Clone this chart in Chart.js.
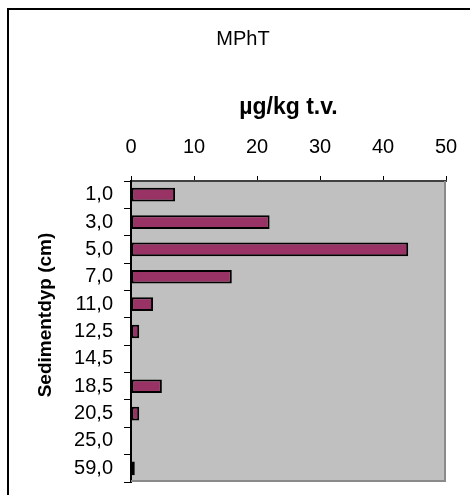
<!DOCTYPE html>
<html>
<head>
<meta charset="utf-8">
<script src="https://cdn.jsdelivr.net/npm/chart.js@4"></script>
<style>
  html, body { margin: 0; padding: 0; background: #fff; }
  #wrap { width: 470px; height: 495px; position: relative; }
</style>
</head>
<body>
<div id="wrap"><canvas id="c" width="470" height="495"></canvas></div>
<script>
const chartTitle = 'MPhT';
const xAxisTitle = 'µg/kg t.v.';
const yAxisTitle = 'Sedimentdyp (cm)';
const categories = ['1,0', '3,0', '5,0', '7,0', '11,0', '12,5', '14,5', '18,5', '20,5', '25,0', '59,0'];
const values = [7, 22, 44, 16, 3.5, 1.3, 0, 4.9, 1.3, 0, 0.6];
const xTicks = [0, 10, 20, 30, 40, 50];

const FONT = "'Liberation Sans', Arial, sans-serif";

const decorPlugin = {
  id: 'decor',
  beforeDraw(chart) {
    const ctx = chart.ctx;
    const a = chart.chartArea;
    ctx.save();
    ctx.strokeStyle = '#000';
    ctx.lineWidth = 2;
    ctx.beginPath();
    ctx.moveTo(8, 495);
    ctx.lineTo(8, 9);
    ctx.lineTo(470, 9);
    ctx.stroke();
    ctx.fillStyle = '#C0C0C0';
    ctx.fillRect(a.left, a.top, a.right - a.left, a.bottom - a.top);
    ctx.restore();
  },
  afterDatasetsDraw(chart) {
    const ctx = chart.ctx;
    const a = chart.chartArea;
    ctx.save();
    ctx.strokeStyle = '#8a8a8a';
    ctx.lineWidth = 2;
    ctx.beginPath();
    ctx.moveTo(a.left, a.bottom - 1);
    ctx.lineTo(a.right - 1, a.bottom - 1);
    ctx.lineTo(a.right - 1, a.top);
    ctx.stroke();
    ctx.restore();
  },
  afterDraw(chart) {
    const ctx = chart.ctx;
    ctx.save();
    ctx.translate(46, 315);
    ctx.rotate(-Math.PI / 2);
    ctx.font = 'bold 19px ' + FONT;
    ctx.fillStyle = '#000';
    ctx.textAlign = 'center';
    ctx.textBaseline = 'middle';
    ctx.fillText(yAxisTitle, 0, 0);
    ctx.restore();
  }
};

new Chart(document.getElementById('c'), {
  type: 'bar',
  data: {
    labels: categories,
    datasets: [{
      data: values,
      backgroundColor: '#993366',
      borderColor: '#000000',
      borderWidth: 2,
      borderSkipped: false,
      barPercentage: 0.5,
      categoryPercentage: 1.0
    }]
  },
  options: {
    indexAxis: 'y',
    responsive: false,
    animation: false,
    devicePixelRatio: 1,
    layout: { padding: { top: 10, left: 40, right: 24, bottom: 13 } },
    plugins: {
      legend: { display: false },
      tooltip: { enabled: false },
      title: {
        display: true,
        text: chartTitle,
        color: '#000',
        font: { family: FONT, size: 20, weight: 'normal' },
        padding: { top: 17, bottom: 0 }
      }
    },
    scales: {
      x: {
        position: 'top',
        min: 0,
        max: 50,
        afterBuildTicks: s => { s.ticks = xTicks.map(v => ({ value: v })); },
        afterFit: s => { s.height = 130; s.paddingLeft = 0; s.paddingRight = 0; },
        ticks: {
          color: '#000',
          font: { family: FONT, size: 20 },
          padding: 17,
          maxRotation: 0
        },
        grid: {
          drawOnChartArea: false,
          drawTicks: true,
          tickLength: 5,
          color: '#000',
          lineWidth: 1
        },
        border: { display: true, color: '#404040', width: 2 },
        title: {
          display: true,
          text: xAxisTitle,
          color: '#000',
          font: { family: FONT, size: 23, weight: 'bold' },
          padding: { top: 43, bottom: 0 }
        }
      },
      y: {
        afterFit: s => { s.width = 91; s.paddingTop = 0; s.paddingBottom = 0; },
        ticks: {
          color: '#000',
          font: { family: FONT, size: 20 },
          padding: 11,
          autoSkip: false
        },
        grid: {
          offset: true,
          drawOnChartArea: false,
          drawTicks: true,
          tickLength: 7,
          color: '#000',
          lineWidth: 1
        },
        border: { display: true, color: '#000', width: 2 }
      }
    }
  },
  plugins: [decorPlugin]
});
</script>
</body>
</html>
